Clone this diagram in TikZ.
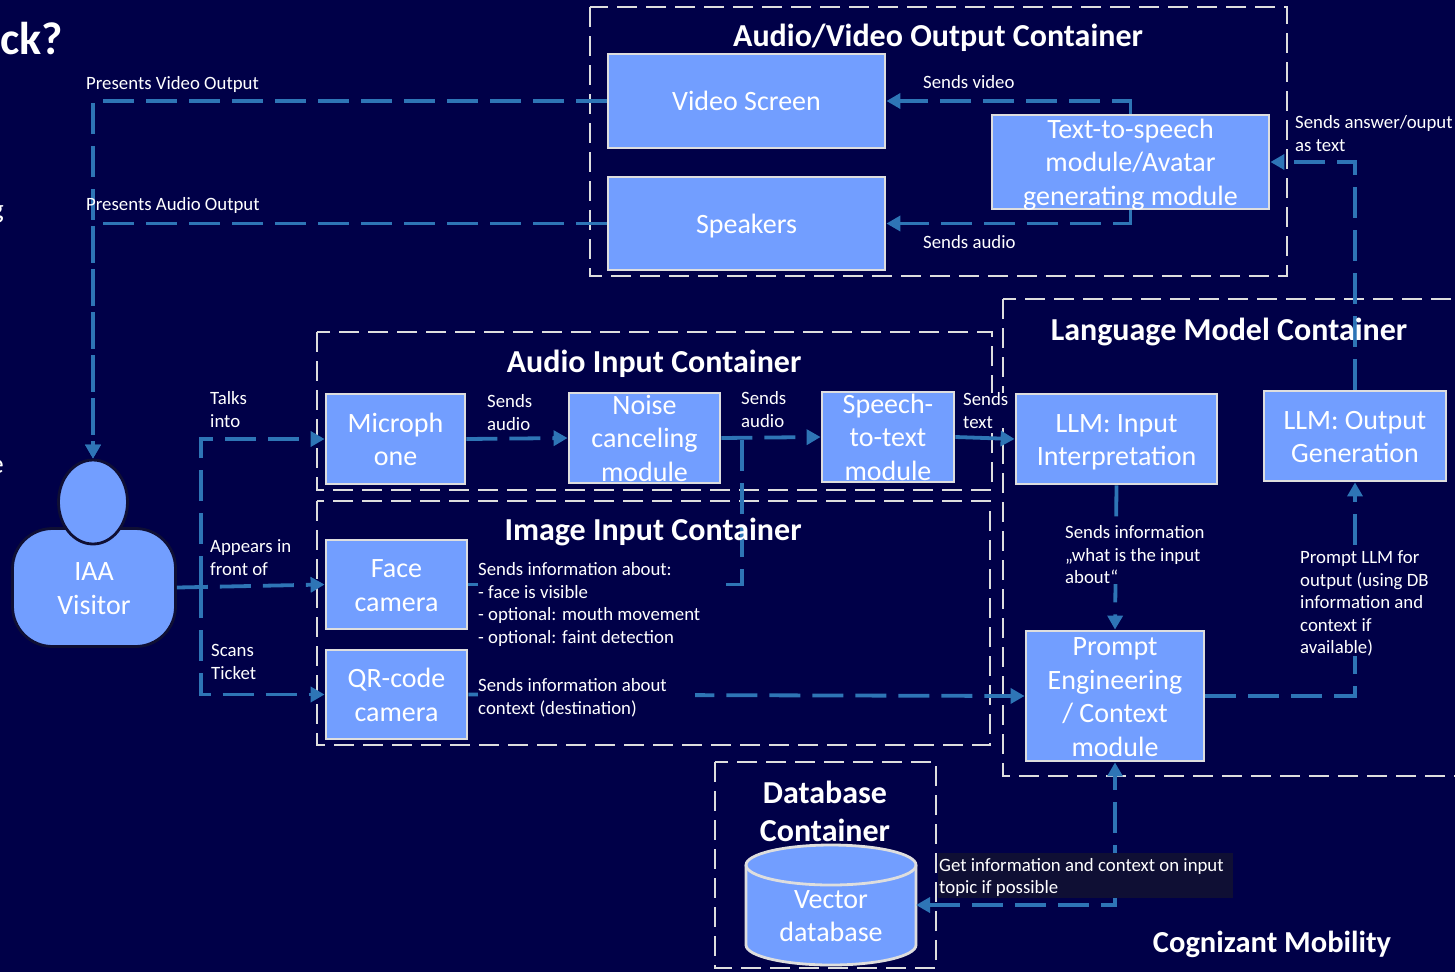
\documentclass[tikz,border=0pt]{standalone}
\usepackage{fontspec}
\setmainfont{Carlito}
\usetikzlibrary{arrows.meta,shapes.geometric}
\definecolor{bgblue}{HTML}{000048}
\definecolor{boxblue}{HTML}{729EFF}
\definecolor{flowblue}{HTML}{2E75B6}
\definecolor{framegrey}{HTML}{DEDEDE}
\definecolor{notedark}{HTML}{0F0F34}
\newcommand{\stacked}[1]{\raisebox{-9.5pt}[0pt][0pt]{\begin{tabular}{@{}c@{}}#1\end{tabular}}}
\tikzset{
	modbox/.style={draw=framegrey, fill=boxblue, text=white, line width=2.8pt, inner sep=0pt,
		font=\fontsize{28}{33.5}\selectfont},
	frame/.style={draw=framegrey, line width=2.8pt, dash pattern=on 20pt off 9pt},
	title/.style={text=white, inner sep=0pt, align=center, font=\bfseries\fontsize{32}{38}\selectfont},
	flow/.style={draw=flowblue, line width=3.8pt, dash pattern=on 31pt off 12pt},
	tip/.style={-{Triangle[length=14pt,width=15pt]}},
	note/.style={text=white, inner sep=0pt, anchor=north west, align=flush left, yshift=-3.5pt,
		font=\fontsize{18.8}{22.5}\selectfont},
	covernote/.style={note, fill=bgblue}
}
\begin{document}
\begin{tikzpicture}[x=1pt, y=-1pt]
	\clip (0,0) rectangle (1455,972);
	\fill[bgblue] (0,0) rectangle (1455,972);

	% Draw containers
	\draw[frame] (590,7) rectangle (1287,276);
	\draw[frame] (1003,299) rectangle (1475,776);
	\draw[frame] (317,332) rectangle (992,490);
	\draw[frame] (317,501) rectangle (990,745);
	\draw[frame] (715,762) rectangle (936,968);

	% Draw modules
	\node[modbox, minimum width=277pt, minimum height=94pt] (video) at (746.5,101) {\stacked{Video Screen}};
	\node[modbox, minimum width=277pt, minimum height=93pt] (speakers) at (746.5,223.5) {\stacked{Speakers}};
	\node[modbox, minimum width=277pt, minimum height=94pt] (tts) at (1130.5,162) {\stacked{Text-to-speech\\module/Avatar\\generating module}};
	\node[modbox, minimum width=139pt, minimum height=90pt] (mic) at (395.5,439) {\stacked{Microph\\one}};
	\node[modbox, minimum width=151pt, minimum height=90pt] (noise) at (644.5,438) {\stacked{Noise\\canceling\\module}};
	\node[modbox, minimum width=132pt, minimum height=90pt] (stt) at (888,437) {\stacked{Speech-\\to-text\\module}};
	\node[modbox, minimum width=201pt, minimum height=90pt] (llmin) at (1116.5,439) {\stacked{LLM: Input\\Interpretation}};
	\node[modbox, minimum width=182pt, minimum height=90pt] (llmout) at (1355,436) {\stacked{LLM: Output\\Generation}};
	\node[modbox, minimum width=141pt, minimum height=89pt] (face) at (396.5,584.5) {\stacked{Face\\camera}};
	\node[modbox, minimum width=141pt, minimum height=89pt] (qr) at (396.5,694.5) {\stacked{QR-code\\camera}};
	\node[modbox, minimum width=178pt, minimum height=130pt] (prompt) at (1115,696) {\stacked{Prompt\\Engineering\\/ Context\\module}};

	% Draw database
	\path[modbox] (746,865) arc[x radius=85pt, y radius=20pt, start angle=180, end angle=0]
		-- (916,945) arc[x radius=85pt, y radius=20pt, start angle=0, end angle=-180] -- cycle;
	\draw[modbox, fill=none] (746,865) arc[x radius=85pt, y radius=20pt, start angle=180, end angle=360];
	\coordinate (vector) at (916,905);

	% Draw visitor
	\node[modbox, draw=notedark, rounded corners=40pt, minimum width=163pt, minimum height=118pt] (body) at (94,587.5) {\stacked{IAA\\Visitor}};
	\node[modbox, draw=notedark, ellipse, minimum width=69pt, minimum height=84pt] (head) at (93,502) {};
	\coordinate (branch) at (201,587);
	\coordinate (merge) at (742,438);

	% Draw text that hides the frames
	\node[covernote, text width=45pt] (sttllm) at (963,389) {Sends\\text};

	% Draw flows
	\draw[flow, tip] (video.west) -| (head.north);
	\draw[flow, tip] (speakers.west) -| (head.north);
	\draw[flow, tip] (tts.north) |- (video.east);
	\draw[flow, tip] (tts.south) |- (speakers.east);
	\draw[flow, tip] (llmout.north) |- (tts.east);
	\draw[flow, tip] (branch) |- (mic.west);
	\draw[flow, tip] (body.east) -- (face.west);
	\draw[flow, tip] (branch) |- (qr.west);
	\draw[flow, tip] (mic.east) -- (noise.west);
	\draw[flow, tip] (noise.east) -- (stt.west);
	\draw[flow, tip, solid] (stt.east) -- (llmin.west);
	\draw[flow] (face.east) -| (merge);
	\draw[flow, tip] (qr.east) -- (prompt.west);
	\draw[flow, tip] (llmin.south) -- (prompt.north);
	\draw[flow, tip] (prompt.east) -| (llmout.south);
	\draw[flow, {Triangle[length=14pt,width=15pt]}-{Triangle[length=14pt,width=15pt]}] (vector) -| (prompt.south);

	% Draw titles
	\node[title] (avtitle) at (938,38) {Audio/Video Output Container};
	\node[title] (lmtitle) at (1229,332) {Language Model Container};
	\node[title] (aitile) at (654,364) {Audio Input Container};
	\node[title] (iititle) at (653,532) {Image Input Container};
	\node[title] (dbtitle) at (825,811) {Database\\Container};
	\node[title, font=\bfseries\fontsize{30.5}{36}\selectfont] (cognizant) at (1272,944) {Cognizant Mobility};

	% Draw text
	\node[text=white, inner sep=0pt, font=\fontsize{28}{33.5}\selectfont] (vectortext) at (831,915) {\stacked{Vector\\database}};
	\node[note] (presvideo) at (86,73) {Presents Video Output};
	\node[note] (presaudio) at (86,194) {Presents Audio Output};
	\node[note] (sendvideo) at (923,72) {Sends video};
	\node[note] (sendaudio) at (923,232) {Sends audio};
	\node[note] (answer) at (1295,112) {Sends answer/ouput\\as text};
	\node[note] (talks) at (210,388) {Talks\\into};
	\node[note] (appears) at (210,536) {Appears in\\front of};
	\node[note] (scans) at (211,641) {Scans\\Ticket};
	\node[note] (micnoise) at (487,391) {Sends\\audio};
	\node[note] (noisestt) at (741,388) {Sends\\audio};
	\node[covernote, text width=238pt] (facenote) at (478,559) {Sends information about:\\- face is visible\\- optional: mouth movement\\- optional: faint detection};
	\node[covernote, text width=217pt] (qrnote) at (478,675) {Sends information about\\context (destination)};
	\node[covernote] (infonote) at (1065,522) {Sends information\\„what is the input\\about“};
	\node[covernote] (promptnote) at (1300,547) {Prompt LLM for\\output (using DB\\information and\\context if\\available)};
	\node[note, fill=notedark, inner xsep=1pt, text width=293pt] (dbnote) at (938,849.5) {\rule{0pt}{18pt}Get information and context on input\\topic if possible\rule[-4.5pt]{0pt}{4.5pt}};

	% Draw cut off slide text
	\node[text=white, inner sep=0pt, anchor=east, font=\bfseries\fontsize{46}{50}\selectfont] (slidetitle) at (63,39) {ck?};
	\node[text=white, inner sep=0pt, anchor=east, font=\fontsize{28}{34}\selectfont] (slideg) at (4,214) {g};
	\node[text=white, inner sep=0pt, anchor=east, font=\fontsize{28}{34}\selectfont] (slidee) at (4,467) {e};
\end{tikzpicture}
\end{document}
